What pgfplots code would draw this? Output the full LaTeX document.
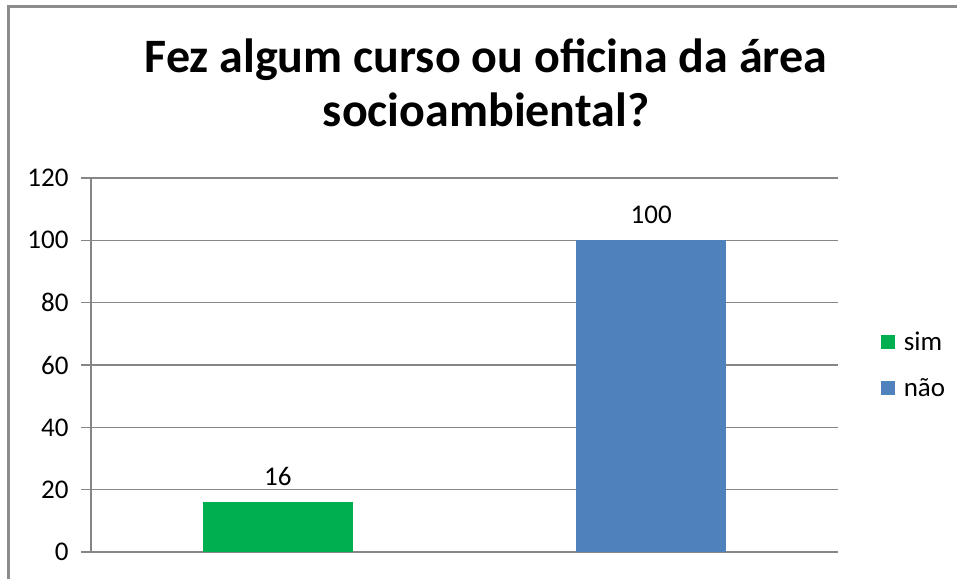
\documentclass[border=0pt]{standalone}
\usepackage{pgfplots}
\pgfplotsset{compat=1.18}
\usepackage{fontspec}
\setmainfont{Carlito}
\definecolor{simgreen}{HTML}{00B050}
\definecolor{naoblue}{HTML}{4F81BD}
\definecolor{gridgray}{HTML}{868686}
\definecolor{framegray}{HTML}{8C8C8C}
\begin{document}
\begin{tikzpicture}[x=1pt,y=1pt]
  \useasboundingbox (0,0) rectangle (957,578);
  \fill[white] (0,0) rectangle (957,578);
  % chart frame (only top and left edges fall inside the picture)
  \draw[framegray, line width=2.5pt] (8.5,-20) -- (8.5,571.5) -- (980,571.5);
  % title
  \node[font=\fontsize{48}{54}\selectfont\bfseries, align=center, anchor=north] at (486,543)
    {Fez algum curso ou oficina da área\\socioambiental?};
  \begin{axis}[
      scale only axis,
      width=747pt, height=374pt,
      at={(91pt,26pt)}, anchor=south west,
      ymin=0, ymax=120,
      ytick={0,20,...,120},
      xmin=-0.5, xmax=1.5,
      xtick=\empty,
      axis y line*=left,
      axis x line*=bottom,
      axis line style={gridgray, line width=1.5pt},
      ymajorgrids,
      grid style={gridgray, line width=1.5pt},
      major tick length=10pt,
      tick align=outside,
      tick style={gridgray, line width=1.5pt},
      /pgf/number format/assume math mode=true,
      ticklabel style={font=\fontsize{27}{30}\selectfont, black},
      yticklabel style={xshift=-9pt},
      ybar, bar width=150pt, bar shift=0pt,
      nodes near coords,
      every node near coord/.append style={font=\fontsize{27}{30}\selectfont, black, yshift=13pt},
      clip=false,
      legend style={draw=none, fill=none, at={(1.057,0.5)}, anchor=west,
        font=\fontsize{27}{30}\selectfont, row sep=22pt, inner sep=0pt,
        /tikz/every odd column/.append style={column sep=7pt}},
      legend cell align=left,
    ]
    \addplot[draw=none, fill=simgreen,
      legend image code/.code={\fill[simgreen] (0pt,-7pt) rectangle (14pt,7pt);}]
      coordinates {(0,16)};
    \addlegendentry{sim}
    \addplot[draw=none, fill=naoblue,
      legend image code/.code={\fill[naoblue] (0pt,-7pt) rectangle (14pt,7pt);}]
      coordinates {(1,100)};
    \addlegendentry{não}
  \end{axis}
\end{tikzpicture}
\end{document}
